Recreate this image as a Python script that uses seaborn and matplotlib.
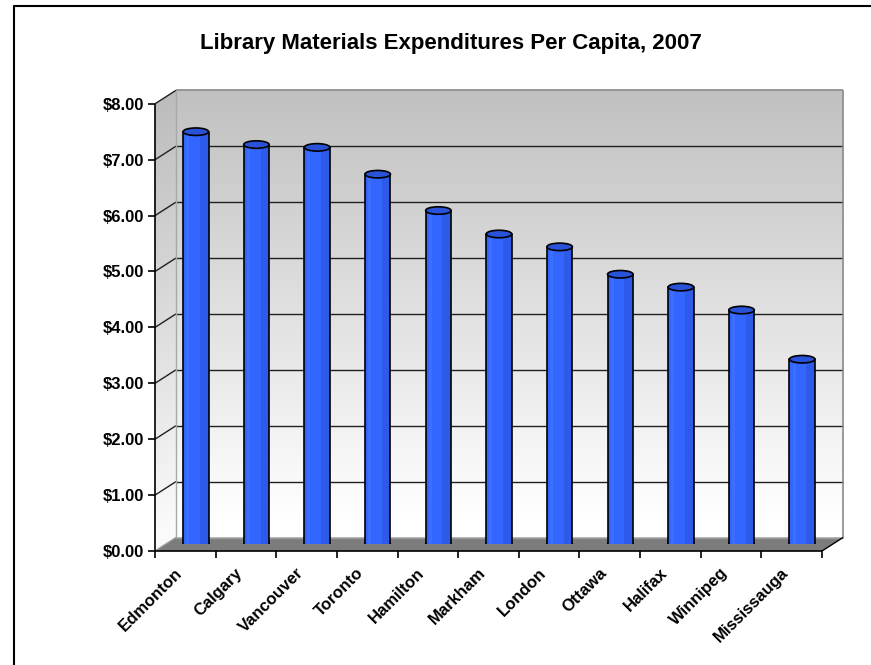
import matplotlib
matplotlib.use("Agg")
import matplotlib.pyplot as plt
import seaborn as sns
import numpy as np
import pandas as pd
from matplotlib.patches import Polygon, Ellipse, Rectangle
from matplotlib.lines import Line2D

# Data
cities = ["Edmonton", "Calgary", "Vancouver", "Toronto", "Hamilton", "Markham",
          "London", "Ottawa", "Halifax", "Winnipeg", "Mississauga"]
spend = [7.38, 7.15, 7.10, 6.62, 5.97, 5.55, 5.32, 4.83, 4.60, 4.19, 3.31]
y_ticks = [0, 1, 2, 3, 4, 5, 6, 7, 8]
y_tick_labels = ["$0.00", "$1.00", "$2.00", "$3.00", "$4.00",
                 "$5.00", "$6.00", "$7.00", "$8.00"]
title = "Library Materials Expenditures Per Capita, 2007"

sns.set_theme(style="white")
plt.rcParams["font.family"] = ["Liberation Sans", "DejaVu Sans"]

W, H = 871, 665
fig = plt.figure(figsize=(W / 100, H / 100), dpi=100)
fig.patch.set_facecolor("white")

# axes = mid-depth plane of the 3-D box
px_per_cat = 667 / 11
px_per_unit = 447.2 / 8
ax = fig.add_axes([165.5 / W, 120.75 / H, 667 / W, 447.2 / H])

df = pd.DataFrame({"city": cities, "spend": spend})
sns.barplot(data=df, x="city", y="spend", order=cities, color="#3366ff",
            saturation=1, width=0.42, edgecolor="none", linewidth=0,
            ax=ax, zorder=5)
ax.set_xlim(-0.5, len(cities) - 0.5)
ax.set_ylim(0, 8)
ax.axis("off")

# half depth offset of the 3-D box, in data units
hx = 10.5 / px_per_cat
hy = 6.75 / px_per_unit
x0, x1 = -0.5, len(cities) - 0.5
ymax = y_ticks[-1]


def front(x, y):
    return (x - hx, y - hy)


def back(x, y):
    return (x + hx, y + hy)


def wall_gray(y):
    t = np.clip((y - 0.3) / (ymax - 0.3), 0, 1)
    g = 1.0 - t * (1.0 - 192 / 255)
    return (g, g, g)


# back wall and left side wall with vertical gradient
nb = 160
edges = np.linspace(0, ymax, nb + 1)
for a, b in zip(edges[:-1], edges[1:]):
    c = wall_gray((a + b) / 2)
    ax.add_patch(Polygon([back(x0, a), back(x1, a), back(x1, b), back(x0, b)],
                         closed=True, facecolor=c, edgecolor=c, lw=0.3,
                         zorder=1, clip_on=False))
    cs = tuple(max(0, v - 0.02) for v in c)
    ax.add_patch(Polygon([front(x0, a), back(x0, a), back(x0, b), front(x0, b)],
                         closed=True, facecolor=cs, edgecolor=cs, lw=0.3,
                         zorder=1, clip_on=False))

# floor
ax.add_patch(Polygon([front(x0, 0), front(x1, 0), back(x1, 0), back(x0, 0)],
                     closed=True, facecolor="#7c7c7c", edgecolor="none",
                     zorder=2, clip_on=False))


def seg(p, q, color="black", lw=1.0, z=3):
    ax.add_line(Line2D([p[0], q[0]], [p[1], q[1]], color=color, lw=lw,
                       zorder=z, clip_on=False, solid_capstyle="butt"))


# gridlines on back wall and side wall
for v in y_ticks[1:-1]:
    seg(back(x0, v), back(x1, v), color="#202020")
    seg(front(x0, v), back(x0, v), color="#202020")
seg(front(x0, ymax), back(x0, ymax), color="#202020")
# wall outlines
seg(back(x0, ymax), back(x1, ymax), color="#8a8a8a", lw=1.2)
seg(back(x1, 0), back(x1, ymax), color="#8a8a8a", lw=1.2)
seg(back(x0, 0), back(x0, ymax), color="#a8a8a8", lw=1.0)
seg(back(x0, 0), back(x1, 0), color="#9a9a9a", lw=1.0)
seg(front(x0, 0), back(x0, 0), color="#9a9a9a", lw=1.0)
seg(front(x1, 0), back(x1, 0), color="black", lw=1.0)

# front axes with ticks
tick_x = 7 / px_per_cat
tick_y = 7 / px_per_unit
seg(front(x0, 0), front(x0, ymax), lw=1.2, z=4)
seg(front(x0, 0), front(x1, 0), lw=1.2, z=4)
for v, lab in zip(y_ticks, y_tick_labels):
    fx, fy = front(x0, v)
    seg((fx - tick_x, fy), (fx, fy), lw=1.2, z=4)
    ax.text(fx - 11 / px_per_cat, fy - 1.5 / px_per_unit, lab, ha="right",
            va="center", fontsize=12, fontweight="bold", color="black",
            clip_on=False)
for k in range(len(cities) + 1):
    fx, fy = front(x0 + k, 0)
    seg((fx, fy), (fx, fy - tick_y), lw=1.2, z=4)

# category labels
for i, name in enumerate(cities):
    fx, fy = front(i, 0)
    ax.text(fx - 11 / px_per_cat, fy - 14 / px_per_unit, name, rotation=45,
            rotation_mode="anchor", ha="right", va="top", fontsize=12,
            fontweight="bold", color="black", clip_on=False)

# cylinder shading, rounded bottoms and caps on each bar
eh = 7.5 / px_per_unit
for p in ax.patches[:]:
    if not isinstance(p, Rectangle) or p.get_zorder() != 5:
        continue
    bx, bw, bh = p.get_x(), p.get_width(), p.get_height()
    cx = bx + bw / 2
    ax.add_patch(Rectangle((bx + 0.66 * bw, 0), 0.34 * bw, bh,
                           facecolor="#2d5ae8", edgecolor="none", zorder=5.1))
    ax.add_patch(Rectangle((bx + 0.12 * bw, 0), 0.12 * bw, bh,
                           facecolor="#3d6fff", edgecolor="none", zorder=5.1))
    ax.add_patch(Ellipse((cx, 0), bw, eh, facecolor="#2f60f4",
                         edgecolor="black", lw=1.2, zorder=4.9))
    ax.add_line(Line2D([bx, bx], [0, bh], color="black", lw=1.2, zorder=5.2))
    ax.add_line(Line2D([bx + bw, bx + bw], [0, bh], color="black", lw=1.2,
                       zorder=5.2))
    ax.add_patch(Ellipse((cx, bh), bw, eh, facecolor="#2952d8",
                         edgecolor="black", lw=1.2, zorder=6))

# title
fig.text(451 / W, 1 - 43 / H, title, ha="center", va="center", fontsize=16,
         fontweight="bold", color="black")

# chart area frame (left and top edges)
fx0 = 14 / W
fy0 = 1 - 6 / H
fig.add_artist(Line2D([fx0, fx0], [0, fy0], transform=fig.transFigure,
                      color="black", lw=1.5))
fig.add_artist(Line2D([fx0, 1], [fy0, fy0], transform=fig.transFigure,
                      color="black", lw=1.5))

fig.savefig("out.png", dpi=100, facecolor="white")
